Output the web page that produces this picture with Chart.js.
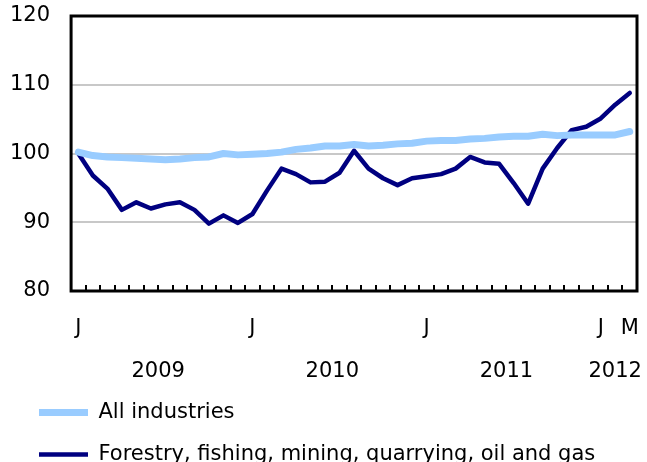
<!doctype html>
<html>
<head>
	<title>Index chart</title>
	<script src="https://cdn.jsdelivr.net/npm/chart.js@4/dist/chart.umd.min.js"></script>
	<style>
		body { margin: 0; background: #fff; }
		#wrap { width: 647px; height: 462px; }
	</style>
</head>
<body>
	<div id="wrap">
		<canvas id="canvas"></canvas>
	</div>
	<script>
		// months Jan 2009 .. Mar 2012
		var months = [
			'2009-01', '2009-02', '2009-03', '2009-04', '2009-05', '2009-06', '2009-07', '2009-08', '2009-09', '2009-10', '2009-11', '2009-12',
			'2010-01', '2010-02', '2010-03', '2010-04', '2010-05', '2010-06', '2010-07', '2010-08', '2010-09', '2010-10', '2010-11', '2010-12',
			'2011-01', '2011-02', '2011-03', '2011-04', '2011-05', '2011-06', '2011-07', '2011-08', '2011-09', '2011-10', '2011-11', '2011-12',
			'2012-01', '2012-02', '2012-03'
		];
		var monthLetters = {'2009-01': 'J', '2010-01': 'J', '2011-01': 'J', '2012-01': 'J', '2012-03': 'M'};
		var years = ['2009', '2010', '2011', '2012'];
		var yTicks = [80, 90, 100, 110, 120];

		var allIndustries = [
			100.2, 99.7, 99.5, 99.4, 99.3, 99.2, 99.1, 99.2, 99.4, 99.5, 100.0, 99.8,
			99.9, 100.0, 100.2, 100.6, 100.8, 101.1, 101.1, 101.3, 101.1, 101.2, 101.4, 101.5,
			101.8, 101.9, 101.9, 102.1, 102.2, 102.4, 102.5, 102.5, 102.8, 102.6, 102.7, 102.7,
			102.7, 102.7, 103.2
		];
		var forestryMining = [
			100.0, 96.8, 94.9, 91.8, 92.9, 92.0, 92.6, 92.9, 91.8, 89.8, 91.0, 89.9,
			91.2, 94.6, 97.8, 97.0, 95.8, 95.9, 97.2, 100.4, 97.8, 96.4, 95.4, 96.4,
			96.7, 97.0, 97.8, 99.5, 98.7, 98.5, 95.7, 92.7, 97.8, 100.8, 103.4, 103.9,
			105.1, 107.1, 108.8
		];

		var FONT = 'DejaVu Sans';
		var FSIZE = 21;
		var clear = 'rgba(0,0,0,0)';

		// frame, inner tick marks and the year row under the month letters
		var framePlugin = {
			id: 'frame',
			afterLayout: function(chart) {
				var lg = chart.legend;
				lg.top += 13; lg.bottom += 13;
				lg.left += 10; lg.right += 10;
			},
			afterDraw: function(chart) {
				var ctx = chart.ctx, a = chart.chartArea, x = chart.scales.x;
				ctx.save();
				ctx.strokeStyle = '#000';
				ctx.lineWidth = 2;
				ctx.beginPath();
				for (var i = 0; i < months.length - 1; i++) {
					var px = Math.round((x.getPixelForValue(i) + x.getPixelForValue(i + 1)) / 2);
					ctx.moveTo(px, a.bottom);
					ctx.lineTo(px, a.bottom - 6);
				}
				ctx.stroke();
				ctx.lineWidth = 3;
				ctx.strokeRect(a.left, a.top, a.right - a.left, a.bottom - a.top);

				ctx.fillStyle = '#000';
				ctx.font = FSIZE + 'px "' + FONT + '"';
				ctx.textAlign = 'center';
				ctx.textBaseline = 'middle';
				years.forEach(function(yr) {
					var idx = [];
					months.forEach(function(m, k) { if (m.slice(0, 4) === yr) idx.push(k); });
					var cx = (x.getPixelForValue(idx[0]) + x.getPixelForValue(idx[idx.length - 1])) / 2;
					ctx.fillText(yr, cx, 372);
				});
				ctx.restore();
			}
		};

		var config = {
			type: 'line',
			data: {
				labels: months,
				datasets: [{
					label: 'All industries',
					data: allIndustries,
					borderColor: '#99ccff',
					backgroundColor: '#99ccff',
					borderWidth: 7,
					borderJoinStyle: 'round',
					borderCapStyle: 'round',
					pointRadius: 0,
					tension: 0
				}, {
					label: 'Forestry, fishing, mining, quarrying, oil and gas',
					data: forestryMining,
					borderColor: '#000080',
					backgroundColor: '#000080',
					borderWidth: 4.5,
					borderJoinStyle: 'round',
					borderCapStyle: 'round',
					pointRadius: 0,
					tension: 0
				}]
			},
			options: {
				responsive: true,
				maintainAspectRatio: false,
				animation: false,
				layout: {
					padding: {left: 8, right: 10, top: 16, bottom: 0}
				},
				plugins: {
					tooltip: {enabled: false},
					legend: {
						position: 'bottom',
						align: 'start',
						labels: {
							usePointStyle: true,
							pointStyle: 'line',
							pointStyleWidth: 49,
							padding: 21,
							color: '#000',
							font: {family: FONT, size: FSIZE}
						}
					}
				},
				scales: {
					x: {
						offset: true,
						grid: {drawOnChartArea: false, drawTicks: true, tickLength: 25, tickColor: clear, color: clear},
						border: {display: false},
						afterFit: function(scale) { scale.height = 77; },
						ticks: {
							autoSkip: false,
							maxRotation: 0,
							padding: 0,
							color: '#000',
							font: {family: FONT, size: FSIZE},
							callback: function(val, i) { return monthLetters[months[i]] || ''; }
						}
					},
					y: {
						min: 80,
						max: 120,
						afterBuildTicks: function(scale) {
							scale.ticks = yTicks.map(function(v) { return {value: v}; });
						},
						grid: {color: '#c8c8c8', lineWidth: 2, drawTicks: true, tickLength: 19, tickColor: clear},
						border: {display: false},
						ticks: {
							padding: 2,
							color: '#000',
							font: {family: FONT, size: FSIZE}
						}
					}
				}
			},
			plugins: [framePlugin]
		};

		window.onload = function() {
			window.myChart = new Chart(document.getElementById('canvas'), config);
		};
	</script>
</body>
</html>
